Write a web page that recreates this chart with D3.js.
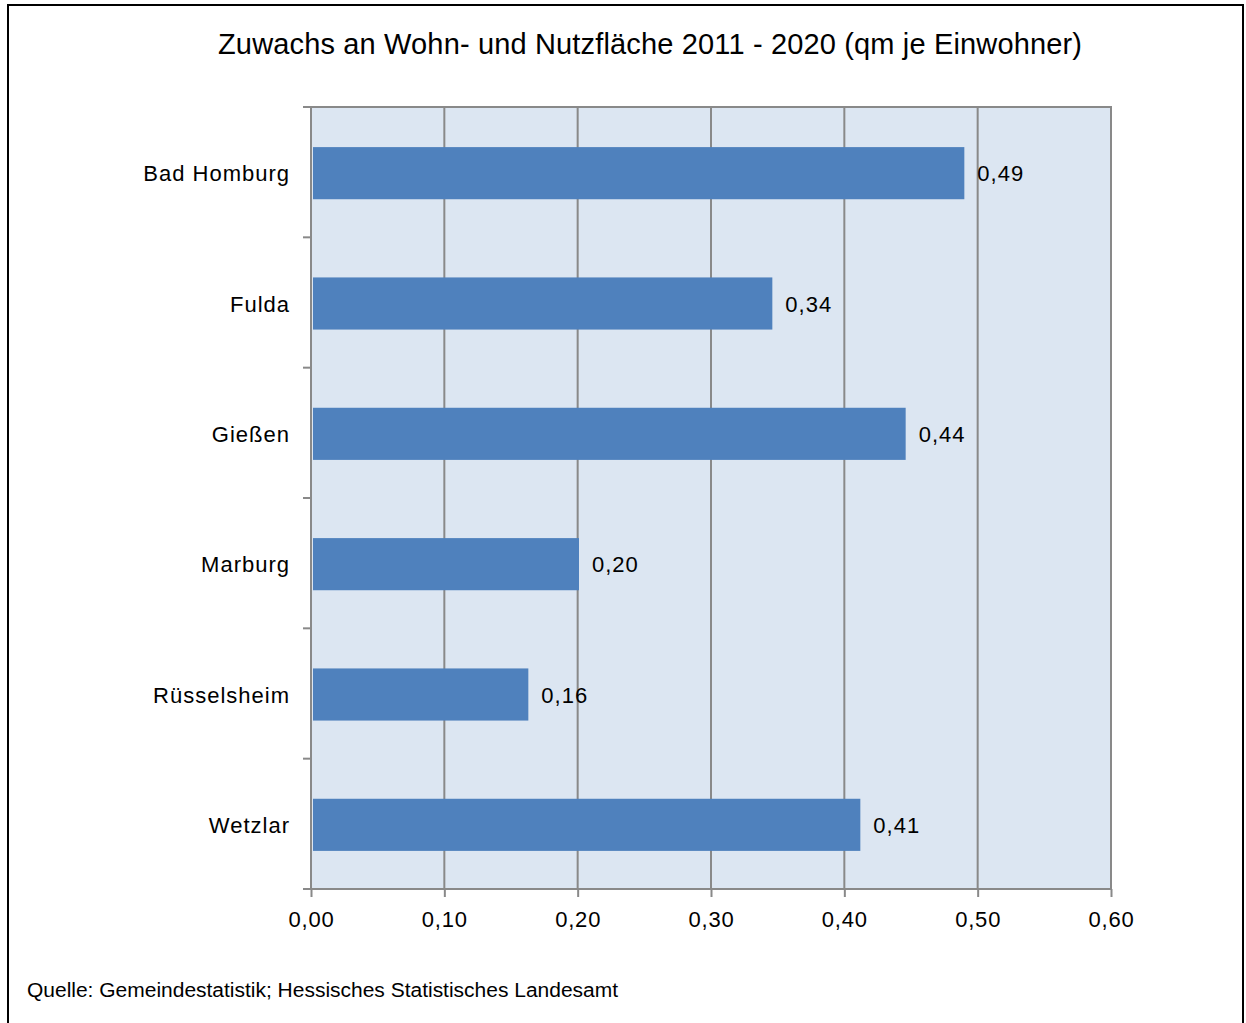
<!DOCTYPE html>
<html>
<head>
<meta charset="utf-8">
<script src="https://cdn.jsdelivr.net/npm/d3@7"></script>
<style>
  body { margin: 0; background: #fff; }
  text { font-family: "Liberation Sans", Arial, sans-serif; fill: #000; }
</style>
</head>
<body>
<svg id="chart" width="1246" height="1023"></svg>
<script>
// data
var cities = ["Bad Homburg", "Fulda", "Gießen", "Marburg", "Rüsselsheim", "Wetzlar"];
var values = [0.49, 0.346, 0.446, 0.201, 0.163, 0.412];
var labels = ["0,49", "0,34", "0,44", "0,20", "0,16", "0,41"];
var ticks = [0, 0.1, 0.2, 0.3, 0.4, 0.5, 0.6];

var svg = d3.select("#chart");

// outer frame
svg.append("rect")
    .attr("x", 8).attr("y", 5)
    .attr("width", 1235).attr("height", 1030)
    .attr("fill", "#fff")
    .attr("stroke", "#000")
    .attr("stroke-width", 2);

var pLeft = 311, pRight = 1111, pTop = 107, pBottom = 889;

var x = d3.scaleLinear().domain([0, 0.6]).range([pLeft, pRight]);
var y = d3.scaleBand().domain(cities).range([pTop, pBottom]).paddingInner(0.6).paddingOuter(0.3);

// plot background
svg.append("rect")
    .attr("x", pLeft).attr("y", pTop)
    .attr("width", pRight - pLeft).attr("height", pBottom - pTop)
    .attr("fill", "#dce6f2")
    .attr("stroke", "#898989")
    .attr("stroke-width", 2);

// vertical gridlines
svg.append("g")
    .selectAll("line")
    .data(ticks.slice(1))
    .enter()
    .append("line")
    .attr("x1", function(d) { return x(d); })
    .attr("x2", function(d) { return x(d); })
    .attr("y1", pTop).attr("y2", pBottom)
    .attr("stroke", "#898989")
    .attr("stroke-width", 2);

// bars
svg.append("g")
    .selectAll("rect")
    .data(cities)
    .enter()
    .append("rect")
    .attr("x", x(0) + 2)
    .attr("y", function(d) { return y(d) + 1; })
    .attr("width", function(d, i) { return x(values[i]) - x(0) - 2; })
    .attr("height", y.bandwidth())
    .attr("fill", "#4f81bd");

// value labels
svg.append("g")
    .selectAll("text")
    .data(cities)
    .enter()
    .append("text")
    .attr("x", function(d, i) { return x(values[i]) + 13; })
    .attr("y", function(d) { return y(d) + y.bandwidth() / 2 + 9; })
    .attr("font-size", 22)
    .attr("letter-spacing", 1)
    .text(function(d, i) { return labels[i]; });

// x axis
var xAxis = svg.append("g")
    .attr("transform", "translate(0," + pBottom + ")")
    .call(d3.axisBottom(x).tickValues(ticks).tickSize(8).tickPadding(14)
        .tickFormat(function(d) { return d3.format(".2f")(d).replace(".", ","); }));
xAxis.select(".domain").attr("stroke", "#898989").attr("stroke-width", 2).attr("d", "M303,0H" + pRight);
xAxis.selectAll(".tick line").attr("stroke", "#898989").attr("stroke-width", 2);
xAxis.selectAll(".tick text").attr("font-size", 22).attr("letter-spacing", 0.8)
    .attr("font-family", "Liberation Sans, Arial, sans-serif").attr("fill", "#000");

// y axis
var yAxis = svg.append("g")
    .attr("transform", "translate(" + pLeft + ",0)")
    .call(d3.axisLeft(y).tickSize(0).tickPadding(21));
yAxis.select(".domain").remove();
yAxis.selectAll(".tick text").attr("font-size", 22).attr("letter-spacing", 1)
    .attr("dy", "0.42em")
    .attr("font-family", "Liberation Sans, Arial, sans-serif").attr("fill", "#000");

// category ticks between bands
var step = y.step();
svg.append("g")
    .selectAll("line")
    .data(d3.range(cities.length + 1))
    .enter()
    .append("line")
    .attr("x1", pLeft - 8).attr("x2", pLeft)
    .attr("y1", function(i) { return pTop + i * step; })
    .attr("y2", function(i) { return pTop + i * step; })
    .attr("stroke", "#898989")
    .attr("stroke-width", 2);

// title
svg.append("text")
    .attr("x", 650).attr("y", 54)
    .attr("text-anchor", "middle")
    .attr("font-size", 29)
    .attr("textLength", 864)
    .text("Zuwachs an Wohn- und Nutzfläche 2011 - 2020 (qm je Einwohner)");

// source
svg.append("text")
    .attr("x", 27).attr("y", 997)
    .attr("font-size", 20)
    .attr("textLength", 591)
    .attr("lengthAdjust", "spacingAndGlyphs")
    .style("font-family", "'Liberation Sans Narrow', 'Liberation Sans', sans-serif")
    .text("Quelle: Gemeindestatistik; Hessisches Statistisches Landesamt");
</script>
</body>
</html>
